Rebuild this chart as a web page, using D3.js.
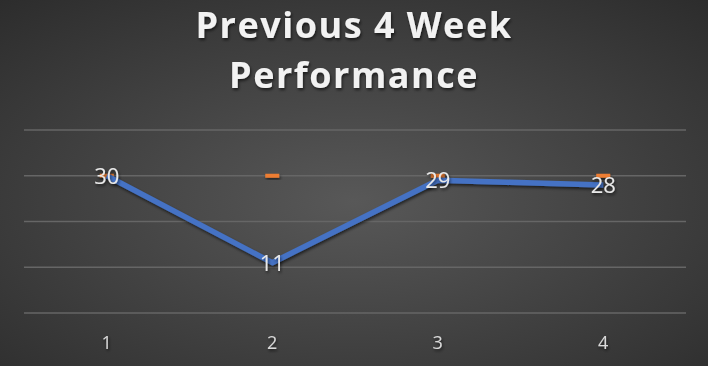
<!DOCTYPE html>
<meta charset="utf-8">
<head>
<style>
body { margin: 0; background: #3a3a3a; }
svg { display: block; }
.title { font: bold 36px "Open Sans", sans-serif; fill: #f2f2f2; text-anchor: middle; letter-spacing: 1.5px; }
.tick text { font: 18px "Open Sans", sans-serif; fill: #d9d9d9; }
.label { font: 22px "Open Sans", sans-serif; fill: #e8e8e8; text-anchor: middle; }
</style>
<script src="https://d3js.org/d3.v7.min.js"></script>
</head>
<body>
<svg width="708" height="366"></svg>
<script>

// chart data
var weeks = ["1", "2", "3", "4"];
var actual = [30, 11, 29, 28];
var target = [30, 30, 30, 30];
var yTicks = [0, 10, 20, 30, 40];
var titleLines = ["Previous 4 Week", "Performance"];

var svg = d3.select("svg"),
    width = +svg.attr("width"),
    height = +svg.attr("height");

var margin = {left: 24, right: 22, top: 130, bottom: 53};

var defs = svg.append("defs");
var grad = defs.append("radialGradient")
    .attr("id", "bg")
    .attr("cx", "50%").attr("cy", "55%").attr("r", "75%");
grad.append("stop").attr("offset", "0%").attr("stop-color", "#585858");
grad.append("stop").attr("offset", "100%").attr("stop-color", "#2c2c2c");

var shadow = defs.append("filter").attr("id", "shadow")
    .attr("x", "-20%").attr("y", "-20%").attr("width", "140%").attr("height", "160%");
shadow.append("feDropShadow")
    .attr("dx", 1).attr("dy", 2).attr("stdDeviation", 1.5)
    .attr("flood-color", "#000").attr("flood-opacity", 0.6);

svg.append("rect")
    .attr("width", width).attr("height", height)
    .attr("fill", "url(#bg)");

var x = d3.scaleBand()
    .domain(weeks)
    .range([margin.left, width - margin.right]);

var y = d3.scaleLinear()
    .domain([0, 40])
    .range([height - margin.bottom, margin.top]);

// title
svg.selectAll(".title")
  .data(titleLines)
  .enter().append("text")
    .attr("class", "title")
    .attr("x", width / 2)
    .attr("y", function(d, i) { return 38 + i * 50; })
    .attr("filter", "url(#shadow)")
    .text(function(d) { return d; });

// gridlines
svg.append("g")
  .selectAll("line")
  .data(yTicks)
  .enter().append("line")
    .attr("x1", margin.left)
    .attr("x2", width - margin.right)
    .attr("y1", function(d) { return y(d); })
    .attr("y2", function(d) { return y(d); })
    .attr("stroke", "#666")
    .attr("stroke-width", 1.5);

// x axis labels
var xAxis = svg.append("g")
    .attr("transform", "translate(0," + (height - margin.bottom) + ")")
    .call(d3.axisBottom(x).tickSize(0).tickPadding(23));
xAxis.select(".domain").remove();
xAxis.selectAll("text").attr("filter", "url(#shadow)");

var cx = function(i) { return x(weeks[i]) + x.bandwidth() / 2; };

// target markers (dash)
svg.append("g")
  .selectAll("rect")
  .data(target)
  .enter().append("rect")
    .attr("x", function(d, i) { return cx(i) - 7; })
    .attr("y", function(d) { return y(d) - 2; })
    .attr("width", 14)
    .attr("height", 4)
    .attr("fill", "#ED7D31")
    .attr("filter", "url(#shadow)");

// actual line
var line = d3.line()
    .x(function(d, i) { return cx(i); })
    .y(function(d) { return y(d); });

svg.append("path")
    .datum(actual)
    .attr("d", line)
    .attr("fill", "none")
    .attr("stroke", "#4472C4")
    .attr("stroke-width", 5.5)
    .attr("stroke-linejoin", "round")
    .attr("filter", "url(#shadow)");

// data labels
svg.append("g")
  .selectAll("text")
  .data(actual)
  .enter().append("text")
    .attr("class", "label")
    .attr("x", function(d, i) { return cx(i); })
    .attr("y", function(d) { return y(d) + 8; })
    .attr("filter", "url(#shadow)")
    .text(function(d) { return d; });

</script>
</body>
